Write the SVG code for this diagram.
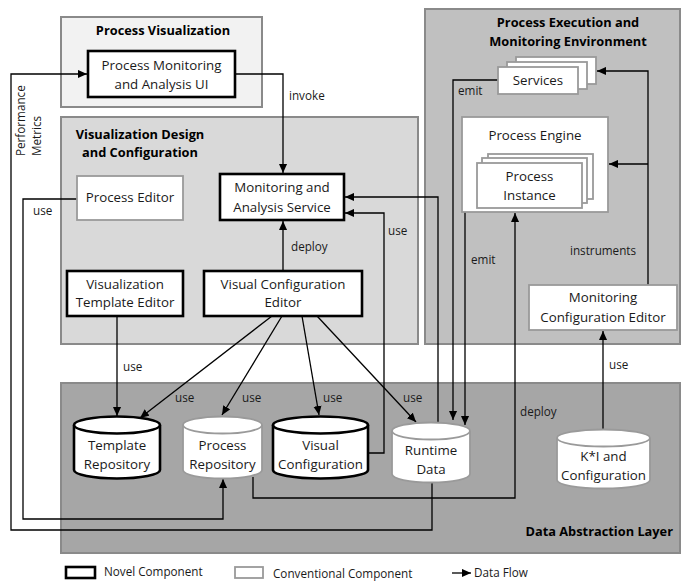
<svg xmlns="http://www.w3.org/2000/svg" width="683" height="583" viewBox="0 0 683 583">
  <defs>
    <marker id="arrow" viewBox="0 0 10 10" refX="10" refY="5" markerWidth="9" markerHeight="9" markerUnits="userSpaceOnUse" orient="auto">
      <path d="M0,0.5 L10,5 L0,9.5 z" fill="#000"/>
    </marker>
  </defs>
  <style>
    text { font-family: "Open Sans", "Noto Sans", sans-serif; fill: #1a1a1a; }
    .t { font-size: 13.3px; text-anchor: middle; }
    .lbl { font-size: 11.7px; }
    .title { font-size: 12.8px; font-weight: bold; text-anchor: middle; fill: #000; }
    .panel { stroke: #8a8a8a; stroke-width: 2; }
    .novel { fill: #fff; stroke: #000; stroke-width: 2.6; }
    .conv { fill: #fff; stroke: #9a9a9a; stroke-width: 1.8; }
    .flow { fill: none; stroke: #000; stroke-width: 1.3; marker-end: url(#arrow); }
  </style>

  <!-- layer panels -->
  <g id="panel-visualization">
    <rect class="panel" x="61" y="17" width="201" height="90" fill="#f2f2f2"/>
    <text class="title" x="163" y="35">Process Visualization</text>
  </g>
  <g id="panel-design">
    <rect class="panel" x="61" y="117" width="357" height="227" fill="#d9d9d9"/>
    <text class="title" x="140" y="139">Visualization Design</text>
    <text class="title" x="140" y="157">and Configuration</text>
  </g>
  <g id="panel-execution">
    <rect class="panel" x="425" y="9" width="255" height="335" fill="#c0c0c0"/>
    <text class="title" x="568" y="27">Process Execution and</text>
    <text class="title" x="568" y="46">Monitoring Environment</text>
  </g>
  <g id="panel-data">
    <rect class="panel" x="61" y="383" width="619" height="170" fill="#a6a6a6"/>
    <text class="title" x="673" y="536" style="text-anchor:end">Data Abstraction Layer</text>
  </g>

  <!-- connectors -->
  <g id="connectors">
    <!-- performance metrics: runtime data to monitoring UI -->
    <path class="flow" d="M432,482 V530 H11 V74 H87"/>
    <!-- invoke -->
    <path class="flow" d="M235,74 H283 V173"/>
    <!-- process editor uses process repository -->
    <path class="flow" d="M77,199 H23 V519 H223 V479"/>
    <!-- visual configuration used by monitoring service -->
    <path class="flow" d="M368,453 H384 V213 H345"/>
    <!-- runtime data used by monitoring service -->
    <path class="flow" d="M438,424 V197 H345"/>
    <!-- services emit -->
    <path class="flow" d="M498,80 H453 V420"/>
    <!-- process engine emit -->
    <path class="flow" d="M465,212 V425"/>
    <!-- deploy process to engine -->
    <path class="flow" d="M253,477 V498 H515 V213"/>
    <!-- instruments -->
    <path class="flow" d="M648,285 V71 H597"/>
    <path class="flow" d="M648,164 H609"/>
    <!-- monitoring configuration editor uses K*I -->
    <path class="flow" d="M603,431 V331"/>
    <!-- template editor uses template repository -->
    <path class="flow" d="M117,316 V416"/>
    <!-- deploy monitoring service -->
    <path class="flow" d="M283,271 V221"/>
    <!-- visual configuration editor uses repositories -->
    <path class="flow" d="M272,316 L140,418"/>
    <path class="flow" d="M282,316 L222,415"/>
    <path class="flow" d="M302,316 L319,415"/>
    <path class="flow" d="M317,316 L416,422"/>

    <!-- connector labels -->
    <text class="lbl" x="289" y="100">invoke</text>
    <text class="lbl" x="291" y="251">deploy</text>
    <text class="lbl" x="388" y="235">use</text>
    <text class="lbl" x="33" y="215">use</text>
    <text class="lbl" x="123" y="371">use</text>
    <text class="lbl" x="175" y="402">use</text>
    <text class="lbl" x="242" y="402">use</text>
    <text class="lbl" x="323" y="402">use</text>
    <text class="lbl" x="403" y="402">use</text>
    <text class="lbl" x="458" y="95">emit</text>
    <text class="lbl" x="471" y="264">emit</text>
    <text class="lbl" x="570" y="255">instruments</text>
    <text class="lbl" x="609" y="369">use</text>
    <text class="lbl" x="520" y="416">deploy</text>
    <text class="lbl" transform="translate(25,156) rotate(-90)">Performance</text>
    <text class="lbl" transform="translate(41,156) rotate(-90)">Metrics</text>
  </g>

  <!-- components -->
  <g id="monitoring-ui">
    <rect class="novel" x="88" y="51" width="147" height="46"/>
    <text class="t" x="161.5" y="70">Process Monitoring</text>
    <text class="t" x="161.5" y="89">and Analysis UI</text>
  </g>
  <g id="process-editor">
    <rect class="conv" x="77" y="176" width="106" height="44"/>
    <text class="t" x="130" y="202">Process Editor</text>
  </g>
  <g id="monitoring-service">
    <rect class="novel" x="220" y="174" width="124" height="46"/>
    <text class="t" x="282" y="192">Monitoring and</text>
    <text class="t" x="282" y="212">Analysis Service</text>
  </g>
  <g id="template-editor">
    <rect class="novel" x="67" y="271" width="116" height="45"/>
    <text class="t" x="125" y="289">Visualization</text>
    <text class="t" x="125" y="307">Template Editor</text>
  </g>
  <g id="visual-config-editor">
    <rect class="novel" x="204" y="271" width="158" height="45"/>
    <text class="t" x="283" y="289">Visual Configuration</text>
    <text class="t" x="283" y="307">Editor</text>
  </g>
  <g id="services">
    <rect class="conv" x="516" y="57" width="80" height="27" stroke-width="1.5"/>
    <rect class="conv" x="507" y="62" width="80" height="27" stroke-width="1.5"/>
    <rect class="conv" x="498" y="67" width="80" height="27"/>
    <text class="t" x="538" y="85">Services</text>
  </g>
  <g id="process-engine">
    <rect class="conv" x="462" y="117" width="146" height="95"/>
    <text class="t" x="535" y="140">Process Engine</text>
    <rect class="conv" x="488" y="154" width="105" height="45" stroke-width="1.5"/>
    <rect class="conv" x="482" y="158" width="105" height="45" stroke-width="1.5"/>
    <rect class="conv" x="477" y="163" width="105" height="45"/>
    <text class="t" x="529.5" y="181">Process</text>
    <text class="t" x="529.5" y="200">Instance</text>
  </g>
  <g id="monitoring-config-editor">
    <rect class="conv" x="529" y="285" width="148" height="45"/>
    <text class="t" x="603" y="302">Monitoring</text>
    <text class="t" x="603" y="322">Configuration Editor</text>
  </g>

  <!-- data stores -->
  <g id="template-repository">
    <path class="novel" d="M74,425 V470 A43,8.5 0 0 0 160,470 V425 A43,8.5 0 0 0 74,425 Z"/>
    <path class="novel" fill="none" d="M74,425 A43,8.5 0 0 0 160,425"/>
    <text class="t" x="117" y="450">Template</text>
    <text class="t" x="117" y="469">Repository</text>
  </g>
  <g id="process-repository">
    <path class="conv" d="M183,425 V470 A39.5,8.5 0 0 0 262,470 V425 A39.5,8.5 0 0 0 183,425 Z"/>
    <path class="conv" fill="none" d="M183,425 A39.5,8.5 0 0 0 262,425"/>
    <text class="t" x="222.5" y="450">Process</text>
    <text class="t" x="222.5" y="469">Repository</text>
  </g>
  <g id="visual-configuration">
    <path class="novel" d="M273,425 V470 A47.5,8.5 0 0 0 368,470 V425 A47.5,8.5 0 0 0 273,425 Z"/>
    <path class="novel" fill="none" d="M273,425 A47.5,8.5 0 0 0 368,425"/>
    <text class="t" x="320.5" y="450">Visual</text>
    <text class="t" x="320.5" y="469">Configuration</text>
  </g>
  <g id="runtime-data">
    <path class="conv" d="M392,431 V474 A39,8.5 0 0 0 470,474 V431 A39,8.5 0 0 0 392,431 Z"/>
    <path class="conv" fill="none" d="M392,431 A39,8.5 0 0 0 470,431"/>
    <text class="t" x="431" y="455">Runtime</text>
    <text class="t" x="431" y="474">Data</text>
  </g>
  <g id="ki-configuration">
    <path class="conv" d="M557,438 V480 A46.5,8.5 0 0 0 650,480 V438 A46.5,8.5 0 0 0 557,438 Z"/>
    <path class="conv" fill="none" d="M557,438 A46.5,8.5 0 0 0 650,438"/>
    <text class="t" x="603.5" y="461">K*I and</text>
    <text class="t" x="603.5" y="480">Configuration</text>
  </g>

  <!-- legend -->
  <g id="legend">
    <rect class="novel" x="66" y="567" width="29" height="11"/>
    <text class="lbl" x="104" y="576">Novel Component</text>
    <rect class="conv" x="235" y="567" width="28" height="11"/>
    <text class="lbl" x="273" y="578">Conventional Component</text>
    <path class="flow" d="M452,573 H471"/>
    <text class="lbl" x="474" y="577">Data Flow</text>
  </g>
</svg>
